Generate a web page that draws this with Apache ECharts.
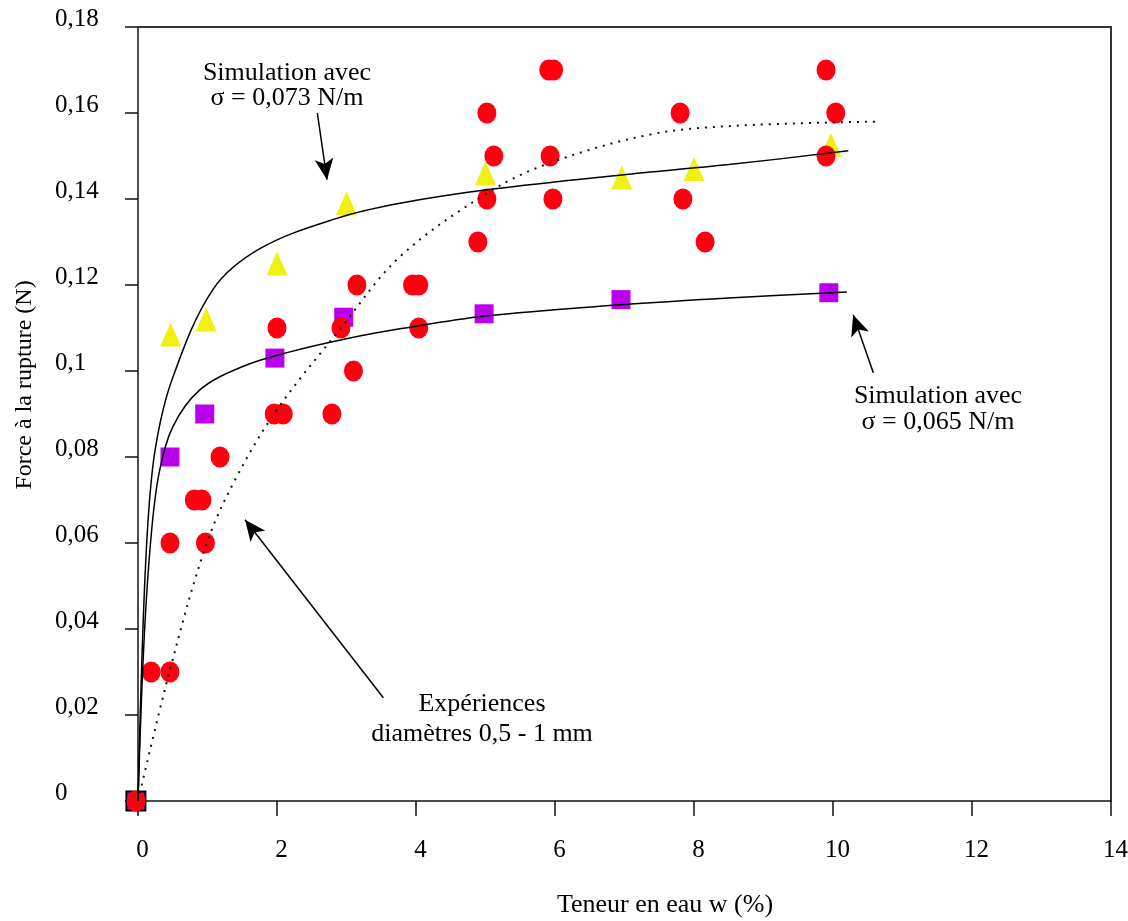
<!DOCTYPE html>
<html>
<head>
<meta charset="utf-8">
<script src="https://cdn.jsdelivr.net/npm/echarts@6/dist/echarts.min.js"></script>
<style>
html,body{margin:0;padding:0;background:#fff;}
#chart{width:1128px;height:921px;}
</style>
</head>
<body>
<div id="chart"></div>
<script>
// ---- Data ----
var xTickLabels = ['0', '2', '4', '6', '8', '10', '12', '14'];
var yTickLabels = ['0', '0,02', '0,04', '0,06', '0,08', '0,1', '0,12', '0,14', '0,16', '0,18'];

// Expériences, diamètres 0,5 - 1 mm (red circles)
var experiences = [
  [-0.03, 0], [0.19, 0.03], [0.46, 0.03], [0.46, 0.06], [0.97, 0.06],
  [0.81, 0.07], [0.92, 0.07], [1.18, 0.08], [1.96, 0.09], [2.09, 0.09],
  [2.0, 0.11], [2.79, 0.09], [2.92, 0.11], [3.1, 0.10], [3.15, 0.12],
  [3.95, 0.12], [4.04, 0.12], [4.04, 0.11], [4.89, 0.13], [5.02, 0.14],
  [5.12, 0.15], [5.02, 0.16], [5.91, 0.17], [5.98, 0.17], [5.93, 0.15],
  [5.97, 0.14], [7.8, 0.16], [7.84, 0.14], [8.16, 0.13], [9.9, 0.17],
  [10.04, 0.16], [9.9, 0.15]
];
// Simulation sigma = 0,073 N/m (yellow triangles)
var sim073 = [
  [0.47, 0.1085], [0.98, 0.112], [2.0, 0.125], [3.0, 0.139],
  [5.0, 0.146], [6.96, 0.145], [8.0, 0.147], [9.97, 0.1526]
];
// Simulation sigma = 0,065 N/m (purple squares)
var sim065 = [
  [-0.03, 0], [0.46, 0.08], [0.96, 0.09], [1.97, 0.103], [2.96, 0.1125],
  [4.98, 0.1133], [6.95, 0.1166], [9.94, 0.1182]
];
// Curves
var curve073 = [
  [0, 0], [0.06, 0.035], [0.14, 0.064], [0.25, 0.082], [0.49, 0.098],
  [1.08, 0.119], [1.76, 0.1285], [2.86, 0.1355], [3.77, 0.139],
  [5.1, 0.1423], [6.96, 0.1456], [8.5, 0.148], [10.22, 0.1512]
];
var curve065 = [
  [0, 0], [0.08, 0.035], [0.18, 0.06], [0.3, 0.076], [0.5, 0.087],
  [0.89, 0.0956], [1.5, 0.101], [2.2, 0.1045], [3.0, 0.1075],
  [3.77, 0.1098], [5.0, 0.1128], [6.94, 0.1154], [8.5, 0.117], [10.2, 0.1184]
];
var curveExp = [
  [0, 0], [0.46, 0.0305], [0.99, 0.06], [1.42, 0.0754], [2.0, 0.091],
  [2.92, 0.11], [3.77, 0.1266], [5.06, 0.1417], [5.93, 0.1484],
  [7.37, 0.155], [8.56, 0.157], [10.63, 0.158]
];
// Annotation arrows: [start, tip] in data units
var arrows = [
  [[2.58, 0.160], [2.72, 0.1445]],
  [[10.58, 0.0996], [10.29, 0.1131]],
  [[3.53, 0.024], [1.54, 0.0654]]
];

var FONT = '"Liberation Serif", "Times New Roman", serif';
var chart = echarts.init(document.getElementById('chart'), null, {renderer: 'canvas'});

function curveSeries(name, data, style) {
  return {
    name: name, type: 'line', smooth: 0.35,
    showSymbol: false, symbol: 'none',
    lineStyle: style,
    data: data
  };
}

var expCurve = curveSeries('Courbe expériences', curveExp, {color: '#111', width: 2, type: [2, 6]});
expCurve.markLine = {
  silent: true, animation: false,
  symbol: ['none', 'arrow'], symbolSize: [14, 21],
  label: {show: false},
  lineStyle: {color: '#000', width: 1.5, type: 'solid'},
  emphasis: {disabled: true},
  data: arrows.map(function (a) {
    return [{coord: a[0]}, {coord: a[1]}];
  })
};

var option = {
  animation: false,
  backgroundColor: '#ffffff',
  grid: {left: 138, right: 17, top: 27, bottom: 120, containLabel: false, outerBoundsMode: 'none'},
  xAxis: [{
    type: 'value', min: 0, max: 14, interval: 2,
    axisLine: {show: true, onZero: false, lineStyle: {color: '#111', width: 1.5}},
    axisTick: {show: true, inside: false, length: 15, lineStyle: {color: '#111', width: 1.5}},
    axisLabel: {
      show: true, margin: 37, color: '#000', fontFamily: FONT, fontSize: 25,
      padding: [0, 0, 0, 9],
      formatter: function (v) { return xTickLabels[Math.round(v / 2)]; }
    },
    splitLine: {show: false}
  }, {
    type: 'value', position: 'top', min: 0, max: 14,
    axisLine: {show: true, onZero: false, lineStyle: {color: '#333', width: 2}},
    axisTick: {show: false}, axisLabel: {show: false}, splitLine: {show: false}
  }],
  yAxis: [{
    type: 'value', min: 0, max: 0.18, interval: 0.02,
    axisLine: {show: true, onZero: false, lineStyle: {color: '#111', width: 1.5}},
    axisTick: {show: true, inside: false, length: 13, lineStyle: {color: '#111', width: 1.5}},
    axisLabel: {
      show: true, margin: 83, align: 'left', verticalAlign: 'bottom', lineHeight: 15,
      color: '#000', fontFamily: FONT, fontSize: 25,
      formatter: function (v) { return yTickLabels[Math.round(v / 0.02)]; }
    },
    splitLine: {show: false}
  }, {
    type: 'value', position: 'right', min: 0, max: 0.18,
    axisLine: {show: true, onZero: false, lineStyle: {color: '#333', width: 2}},
    axisTick: {show: false}, axisLabel: {show: false}, splitLine: {show: false}
  }],
  series: [
    {
      name: 'Simulation 0,065', type: 'scatter', clip: false,
      symbol: 'rect', symbolSize: [19, 19],
      itemStyle: {color: '#bb00ee', opacity: 1},
      data: sim065.map(function (p, i) {
        return i === 0 ? {value: p, itemStyle: {borderColor: '#000', borderWidth: 2}} : p;
      })
    },
    {
      name: 'Simulation 0,073', type: 'scatter', clip: false,
      symbol: 'triangle', symbolSize: [21, 24],
      itemStyle: {color: '#f0f014', opacity: 1},
      data: sim073
    },
    {
      name: 'Expériences', type: 'scatter', clip: false,
      symbol: 'circle', symbolSize: [19, 21],
      itemStyle: {color: '#ff0010', opacity: 1},
      data: experiences
    },
    curveSeries('Courbe 0,065', curve065, {color: '#000', width: 1.5}),
    curveSeries('Courbe 0,073', curve073, {color: '#000', width: 1.5}),
    expCurve
  ],
  graphic: [
    {type: 'text', x: 287, y: 86, style: {text: 'Simulation avec\nσ = 0,073 N/m', font: '26px ' + FONT, fill: '#000', textAlign: 'center', textVerticalAlign: 'middle', lineHeight: 25}},
    {type: 'text', x: 938, y: 409, style: {text: 'Simulation avec\nσ = 0,065 N/m', font: '26px ' + FONT, fill: '#000', textAlign: 'center', textVerticalAlign: 'middle', lineHeight: 26}},
    {type: 'text', x: 482, y: 719, style: {text: 'Expériences\ndiamètres 0,5 - 1 mm', font: '26px ' + FONT, fill: '#000', textAlign: 'center', textVerticalAlign: 'middle', lineHeight: 30}},
    {type: 'text', x: 665, y: 905, style: {text: 'Teneur en eau w (%)', font: '26px ' + FONT, fill: '#000', textAlign: 'center', textVerticalAlign: 'middle'}},
    {type: 'text', x: 25, y: 385, rotation: Math.PI / 2, style: {text: 'Force à la rupture (N)', font: '24px ' + FONT, fill: '#000', textAlign: 'center', textVerticalAlign: 'middle'}}
  ]
};
chart.setOption(option);
</script>
</body>
</html>
